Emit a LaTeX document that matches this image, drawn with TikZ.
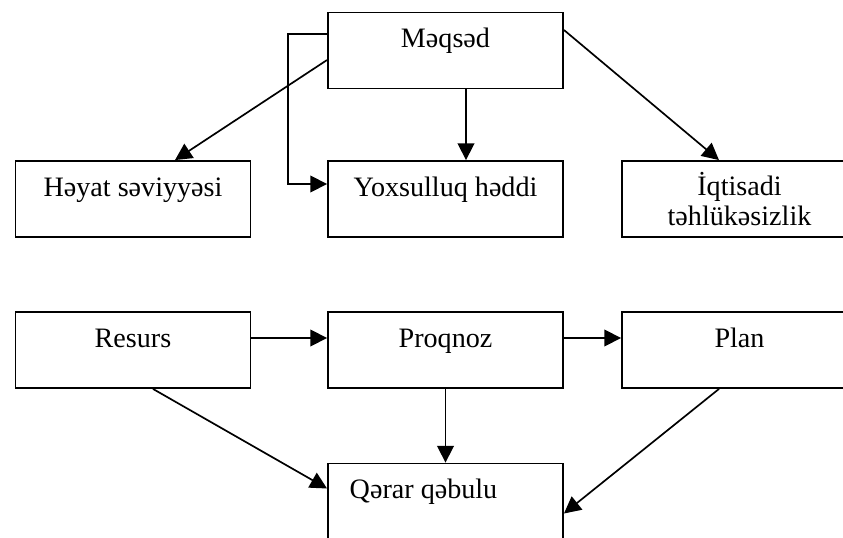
\documentclass[tikz,border=0pt]{standalone}
\usepackage{fontspec}
\setmainfont{Liberation Serif}
\usepackage{tikz}
\usetikzlibrary{calc,arrows.meta}

\tikzset{
  qutu/.style={draw, line width=1.3pt, minimum width=5.875cm, minimum height=1.9cm, inner sep=0pt},
  yazi/.style={font=\fontsize{20}{21.3}\selectfont, inner sep=0pt, anchor=base},
  ox/.style={line width=1.2pt, -{Triangle[length=0.42cm, width=0.42cm]}}
}

\begin{document}
\begin{tikzpicture}[x=0.025cm, y=-0.025cm]
\useasboundingbox (0,0) rectangle (843,538);
\clip (0,0) rectangle (843,538);

% Boxes
\node[qutu] (maq) at (445.5,50.5) {};
\node[qutu] (hay) at (133,199) {};
\node[qutu] (yox) at (445.5,199) {};
\node[qutu] (iqt) at (739.5,199) {};
\node[qutu] (res) at (133,350) {};
\node[qutu] (pro) at (445.5,350) {};
\node[qutu] (pla) at (739.5,350) {};
\node[qutu] (qer) at (445.5,501.5) {};

% Texts (two-line text sits on its last line)
\node[yazi] (t-maq) at ($(maq.north)+(0,36)$) {Məqsəd};
\node[yazi] (t-hay) at ($(hay.north)+(0,36)$) {Həyat səviyyəsi};
\node[yazi] (t-yox) at ($(yox.north)+(0,36)$) {Yoxsulluq həddi};
\node[yazi, align=center] (t-iqt) at ($(iqt.north)+(0,65)$) {İqtisadi\\təhlükəsizlik};
\node[yazi] (t-res) at ($(res.north)+(0,36)$) {Resurs};
\node[yazi] (t-pro) at ($(pro.north)+(0,36)$) {Proqnoz};
\node[yazi] (t-pla) at ($(pla.north)+(0,36)$) {Plan};
\node[yazi] (t-qer) at ($(qer.north)+(-22,36)$) {Qərar qəbulu};

% Upper arrows
\draw[ox] ($(maq.west)+(0,-16.5)$) -- ++(-39,0) |- ($(yox.west)+(0,-15)$);
\draw[ox] ($(maq.west)+(0,9.5)$) -- ($(hay.north)+(42,0)$);
\draw[ox] ($(maq.south)+(20.5,0)$) -- ($(yox.north)+(20.5,0)$);
\draw[ox] ($(maq.east)+(0,-20.5)$) -- ($(iqt.north)+(-20.5,0)$);

% Lower arrows
\draw[ox] ($(res.east)+(0,-12)$) -- ($(pro.west)+(0,-12)$);
\draw[ox] ($(pro.east)+(0,-12)$) -- ($(pla.west)+(0,-12)$);
\draw[ox] ($(res.south)+(20,0)$) -- ($(qer.west)+(0,-13)$);
\draw[ox] (pro.south) -- (qer.north);
\draw[ox] ($(pla.south)+(-20.5,0)$) -- ($(qer.east)+(0,12)$);
\end{tikzpicture}
\end{document}
